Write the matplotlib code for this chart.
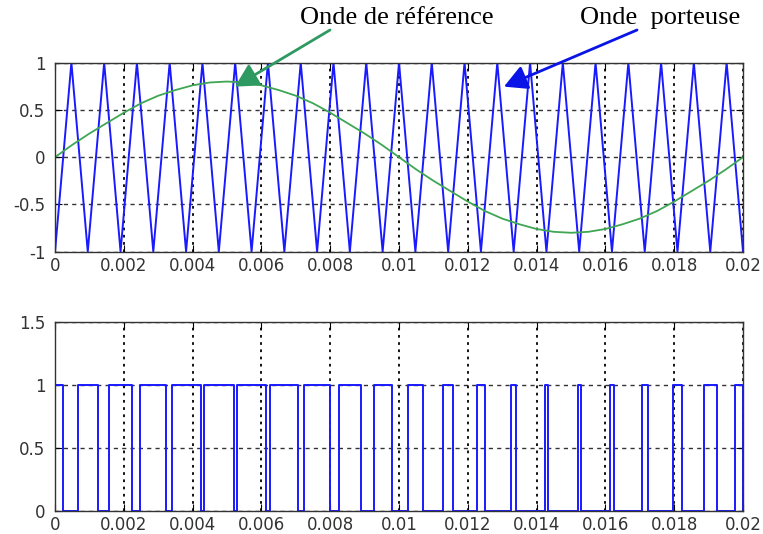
import numpy as np
import matplotlib
matplotlib.use("Agg")
import matplotlib.pyplot as plt

# onde porteuse (triangle) : sommets
porteuse_t = [0, 0.000476, 0.000952, 0.001429, 0.001905, 0.002381, 0.002857, 0.003333,
              0.00381, 0.004286, 0.004762, 0.005238, 0.005714, 0.00619, 0.006667, 0.007143,
              0.007619, 0.008095, 0.008571, 0.009048, 0.009524, 0.01, 0.010476, 0.010952,
              0.011429, 0.011905, 0.012381, 0.012857, 0.013333, 0.01381, 0.014286, 0.014762,
              0.015238, 0.015714, 0.01619, 0.016667, 0.017143, 0.017619, 0.018095, 0.018571,
              0.019048, 0.019524, 0.02]
porteuse_y = [-1, 1] * 21 + [-1]

# onde de reference (lue tous les 0.5 ms)
ref_t = [i * 0.0005 for i in range(41)]
ref_y = [0, 0.13, 0.25, 0.36, 0.47, 0.57, 0.65, 0.71, 0.76, 0.79, 0.80,
         0.79, 0.76, 0.71, 0.65, 0.57, 0.47, 0.36, 0.25, 0.13, 0,
         -0.13, -0.25, -0.36, -0.47, -0.57, -0.65, -0.71, -0.76, -0.79, -0.80,
         -0.79, -0.76, -0.71, -0.65, -0.57, -0.47, -0.36, -0.25, -0.13, 0]

# signal MLI : debut / fin des impulsions a 1
debut = [0, 0.00066, 0.00156, 0.00247, 0.0034, 0.00433, 0.00529, 0.00626, 0.00725, 0.00825,
         0.00926, 0.01027, 0.01127, 0.01227, 0.01326, 0.01423, 0.01519, 0.01613, 0.01705,
         0.01796, 0.01887, 0.01976]
fin = [0.00024, 0.00125, 0.00225, 0.00324, 0.00423, 0.00519, 0.00614, 0.00707, 0.00799,
       0.00889, 0.00979, 0.01069, 0.01158, 0.01249, 0.01341, 0.01434, 0.01529, 0.01625,
       0.01723, 0.01823, 0.01923, 0.02]

x_ticks = [0, 0.002, 0.004, 0.006, 0.008, 0.01, 0.012, 0.014, 0.016, 0.018, 0.02]
x_labels = ["0", "0.002", "0.004", "0.006", "0.008", "0.01", "0.012", "0.014", "0.016", "0.018", "0.02"]

plt.rcParams["font.family"] = ["DejaVu Sans"]


def style_matlab(ax, yticks, ylabels):
    ax.set_xlim(0, 0.02)
    ax.set_xticks(x_ticks)
    ax.set_xticklabels(x_labels)
    ax.set_yticks(yticks)
    ax.set_yticklabels(ylabels)
    ax.tick_params(direction="in", length=5, labelsize=12, top=True, right=True,
                   labelcolor="#333333")
    ax.tick_params(axis="x", pad=4)
    ax.tick_params(axis="y", pad=7)
    for s in ax.spines.values():
        s.set_linewidth(1.0)
        s.set_color("#333333")
    ax.xaxis.grid(True, color="black", linestyle=(0, (1.5, 2.5)), linewidth=1.3)
    ax.yaxis.grid(True, color="black", linestyle=(0, (3, 3)), linewidth=1.0, alpha=0.8)
    ax.set_axisbelow(True)


fig = plt.figure(figsize=(7.63, 5.34), dpi=100)
ax1 = fig.add_axes([0.0721, 0.5287, 0.9017, 0.354])
ax2 = fig.add_axes([0.0721, 0.0436, 0.9017, 0.354])

ax1.plot(porteuse_t, porteuse_y, color="#1a1aff", linewidth=1.4)
ax1.plot(ref_t, ref_y, color="#3fa654", linewidth=1.3)
ax1.set_ylim(-1, 1)
style_matlab(ax1, [-1, -0.5, 0, 0.5, 1], ["-1", "-0.5", "0", "0.5", "1"])

# construction du signal en creneaux
xs, ys = [], []
for a, b in zip(debut, fin):
    xs += [a, a, b, b]
    ys += [0, 1, 1, 0]
ax2.plot(xs, ys, color="#1a1aff", linewidth=1.4)
ax2.set_ylim(0, 1.5)
style_matlab(ax2, [0, 0.5, 1, 1.5], ["0", "0.5", "1", "1.5"])

fig.text(397 / 763, 1 - 18 / 534, "Onde de référence", family="Liberation Serif",
         fontsize=19, ha="center", va="center")
fig.text(660 / 763, 1 - 18 / 534, "Onde  porteuse", family="Liberation Serif",
         fontsize=19, ha="center", va="center")

fleche = "-|>,head_length=1.4,head_width=0.75"
ax1.annotate("", xy=(0.00523, 0.746), xycoords="data",
             xytext=(330 / 763, 1 - 30 / 534), textcoords="figure fraction",
             arrowprops=dict(arrowstyle=fleche, color="#2e9a62", lw=2,
                             shrinkA=0, shrinkB=0), annotation_clip=False)
ax1.annotate("", xy=(0.01305, 0.746), xycoords="data",
             xytext=(637 / 763, 1 - 30 / 534), textcoords="figure fraction",
             arrowprops=dict(arrowstyle=fleche, color="#0a14e6", lw=2,
                             shrinkA=0, shrinkB=0), annotation_clip=False)

fig.savefig("out.png", dpi=100)
